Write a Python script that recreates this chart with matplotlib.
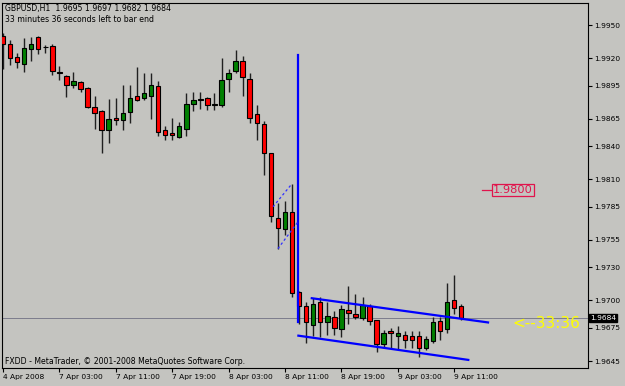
import numpy as np
import matplotlib
matplotlib.use("Agg")
import matplotlib.pyplot as plt
import matplotlib.transforms as mtransforms

# GBPUSD H1 bars (open, high, low, close)
opens = [1.9940, 1.9933, 1.9921, 1.9915, 1.9928, 1.9939, 1.9930, 1.9931, 1.9907, 1.9904,
         1.9896, 1.9898, 1.9893, 1.9876, 1.9872, 1.9855, 1.9866, 1.9864, 1.9871, 1.9886,
         1.9884, 1.9886, 1.9895, 1.9855, 1.9852, 1.9848, 1.9856, 1.9878, 1.9882, 1.9884,
         1.9877, 1.9877, 1.9901, 1.9908, 1.9917, 1.9901, 1.9869, 1.9860, 1.9834, 1.9775,
         1.9765, 1.9780, 1.9708, 1.9695, 1.9678, 1.9699, 1.9680, 1.9685, 1.9674, 1.9691,
         1.9688, 1.9684, 1.9695, 1.9682, 1.9660, 1.9672, 1.9668, 1.9669, 1.9668, 1.9668,
         1.9657, 1.9663, 1.9681, 1.9674, 1.9700, 1.9695]
highs = [1.9943, 1.9936, 1.9925, 1.9938, 1.9939, 1.9940, 1.9932, 1.9933, 1.9913, 1.9905,
         1.9907, 1.9899, 1.9894, 1.9886, 1.9873, 1.9883, 1.9884, 1.9896, 1.9896, 1.9912,
         1.9906, 1.9906, 1.9899, 1.9858, 1.9866, 1.9862, 1.9888, 1.9889, 1.9889, 1.9885,
         1.9888, 1.9920, 1.9910, 1.9927, 1.9922, 1.9906, 1.9877, 1.9863, 1.9834, 1.9788,
         1.9790, 1.9806, 1.9709, 1.9699, 1.9702, 1.9703, 1.9699, 1.9690, 1.9696, 1.9713,
         1.9706, 1.9703, 1.9697, 1.9682, 1.9673, 1.9675, 1.9677, 1.9672, 1.9672, 1.9672,
         1.9668, 1.9685, 1.9685, 1.9716, 1.9723, 1.9697]
lows = [1.9910, 1.9914, 1.9911, 1.9907, 1.9917, 1.9924, 1.9925, 1.9905, 1.9900, 1.9885,
        1.9893, 1.9889, 1.9875, 1.9856, 1.9834, 1.9843, 1.9859, 1.9855, 1.9861, 1.9881,
        1.9882, 1.9865, 1.9849, 1.9846, 1.9846, 1.9847, 1.9849, 1.9872, 1.9874, 1.9873,
        1.9873, 1.9876, 1.9889, 1.9906, 1.9886, 1.9861, 1.9846, 1.9814, 1.9771, 1.9747,
        1.9759, 1.9703, 1.9679, 1.9661, 1.9668, 1.9667, 1.9669, 1.9669, 1.9667, 1.9679,
        1.9683, 1.9682, 1.9678, 1.9653, 1.9657, 1.9657, 1.9656, 1.9657, 1.9657, 1.9649,
        1.9655, 1.9661, 1.9664, 1.9670, 1.9688, 1.9682]
closes = [1.9933, 1.9920, 1.9916, 1.9929, 1.9933, 1.9928, 1.9930, 1.9908, 1.9906, 1.9896,
          1.9899, 1.9892, 1.9876, 1.9870, 1.9855, 1.9865, 1.9864, 1.9870, 1.9884, 1.9882,
          1.9888, 1.9896, 1.9853, 1.9850, 1.9850, 1.9858, 1.9878, 1.9882, 1.9883, 1.9877,
          1.9878, 1.9900, 1.9906, 1.9917, 1.9903, 1.9866, 1.9861, 1.9834, 1.9777, 1.9766,
          1.9780, 1.9707, 1.9695, 1.9680, 1.9697, 1.9680, 1.9686, 1.9675, 1.9692, 1.9689,
          1.9685, 1.9696, 1.9681, 1.9660, 1.9670, 1.9670, 1.9670, 1.9664, 1.9664, 1.9657,
          1.9665, 1.9680, 1.9672, 1.9699, 1.9693, 1.9684]

time_tick_pos = [0, 8, 16, 24, 32, 40, 48, 56, 64]
time_labels = ["4 Apr 2008", "7 Apr 03:00", "7 Apr 11:00", "7 Apr 19:00", "8 Apr 03:00",
               "8 Apr 11:00", "8 Apr 19:00", "9 Apr 03:00", "9 Apr 11:00"]
price_ticks = [1.9950, 1.9920, 1.9895, 1.9865, 1.9840, 1.9810, 1.9785,
               1.9755, 1.9730, 1.9700, 1.9675, 1.9645]

# drawn objects (bar index, price)
vline_x, vline_lo, vline_hi = 41.9, 1.9680, 1.9923
chan_upper = ([43.8, 68.8], [1.9702, 1.9680])
chan_lower = ([41.9, 66.0], [1.9668, 1.9646])
dash_upper = ([38.3, 41.0], [1.9785, 1.9806])
dash_lower = ([39.0, 41.8], [1.9747, 1.9771])
level_price = 1.9800
bid = 1.9684

bg = "#c4c4c0"
fig = plt.figure(figsize=(6.25, 3.86), dpi=100, facecolor=bg)
W, H = 625, 386
ax = fig.add_axes([2 / W, (H - 367.5) / H, 586 / W, 364.5 / H], facecolor=bg)

o = np.array(opens); h = np.array(highs); l = np.array(lows); c = np.array(closes)
x = np.arange(len(o))

ax.vlines(x, l, h, color="#202020", lw=1, zorder=2)
cols = np.where(c > o, "#008000", np.where(c < o, "#ff0000", "black"))
ax.bar(x, np.abs(c - o), bottom=np.minimum(o, c), width=0.64, color=cols,
       edgecolor="black", linewidth=0.8, zorder=3)

# bid line
ax.axhline(bid, color="#7c7c8c", lw=0.7, zorder=1)

# trend objects
ax.plot([vline_x, vline_x], [vline_lo, vline_hi], color="#0000ff", lw=1.6, zorder=4)
ax.plot(*chan_upper, color="#0000ff", lw=1.6, zorder=4)
ax.plot(*chan_lower, color="#0000ff", lw=1.6, zorder=4)
ax.plot(*dash_upper, color="#3030ff", lw=0.9, ls=(0, (2, 2)), zorder=4)
ax.plot(*dash_lower, color="#3030ff", lw=0.9, ls=(0, (2, 2)), zorder=4)

# 1.9800 level label
ax.plot([67.9, 69.2], [level_price, level_price], color="#e0144c", lw=0.9)
ax.text(69.5, level_price, "1.9800", color="#e0144c", fontsize=8.2, va="center", ha="left",
        bbox=dict(facecolor="none", edgecolor="#e0144c", lw=0.9, pad=0.6))

# countdown
ax.text(72.3, 1.9679, "<--33:36", color="#ffff00", fontsize=11, va="center", ha="left")

ax.set_xlim(-0.14, 82.98)
ax.set_ylim(1.96391, 1.99700)

ax.set_xticks(time_tick_pos)
ax.set_xticklabels(time_labels, ha="left")
ax.set_yticks(price_ticks)
ax.set_yticklabels([f"{p:.4f}" for p in price_ticks])
ax.yaxis.tick_right()
ax.tick_params(axis="both", direction="out", length=3, width=0.8, labelsize=5.4,
               colors="black", pad=1.5)
for lab in ax.get_xticklabels():
    lab.set_horizontalalignment("left")
for s in ax.spines.values():
    s.set_color("black")
    s.set_linewidth(0.8)

# current price box on the scale
trans = mtransforms.blended_transform_factory(ax.transAxes, ax.transData)
ax.text(1.004, bid, f"{bid:.4f}", transform=trans, color="white", fontsize=5.4,
        va="center", ha="left", bbox=dict(facecolor="black", edgecolor="black", pad=0.8))

fig.text(5 / W, 1 - 8 / H, "GBPUSD,H1  1.9695 1.9697 1.9682 1.9684", fontsize=5.6,
         va="center", ha="left", color="black")
fig.text(5 / W, 1 - 19 / H, "33 minutes 36 seconds left to bar end", fontsize=5.6,
         va="center", ha="left", color="black")
fig.text(5 / W, 1 - 361 / H, "FXDD - MetaTrader, © 2001-2008 MetaQuotes Software Corp.",
         fontsize=5.6, va="center", ha="left", color="black")

fig.savefig("out.png", dpi=100, facecolor=bg)
